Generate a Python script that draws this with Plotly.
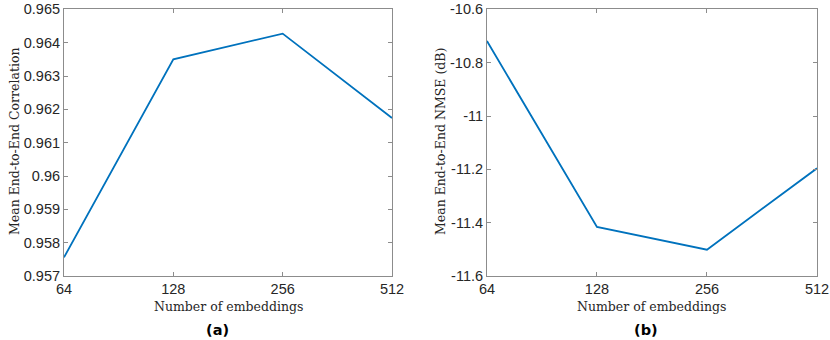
"""
Mean end-to-end correlation and NMSE vs number of embeddings
"""
import numpy as np
import plotly.graph_objs as go

# data
embeddings = [64, 128, 256, 512]
correlation = [0.95756, 0.9635, 0.96427, 0.96174]
nmse_db = [-10.719, -11.416, -11.501, -11.196]

corr_ticks = [0.957, 0.958, 0.959, 0.960, 0.961, 0.962, 0.963, 0.964, 0.965]
corr_labels = ['0.957', '0.958', '0.959', '0.96', '0.961', '0.962', '0.963', '0.964', '0.965']
nmse_ticks = [-11.6, -11.4, -11.2, -11.0, -10.8, -10.6]
nmse_labels = ['-11.6', '-11.4', '-11.2', '-11', '-10.8', '-10.6']

line_color = '#0072BD'
axis_color = '#8c8c8c'
tick_font = dict(family='Liberation Sans, Arial', size=14.5, color='#262626')
title_font = dict(family='DejaVu Serif, Liberation Serif', size=12.5, color='#262626')

fig = go.Figure()
fig.add_trace(go.Scatter(x=embeddings, y=correlation, mode='lines',
                         line=dict(color=line_color, width=1.8),
                         xaxis='x', yaxis='y', showlegend=False))
fig.add_trace(go.Scatter(x=embeddings, y=nmse_db, mode='lines',
                         line=dict(color=line_color, width=1.8),
                         xaxis='x2', yaxis='y2', showlegend=False))

common_axis = dict(showline=True, linecolor=axis_color, linewidth=1, mirror='ticks',
                   ticks='inside', ticklen=4, tickcolor=axis_color, showgrid=False,
                   zeroline=False, tickfont=tick_font, automargin=False)

x_range = [np.log10(64), np.log10(512)]

fig.update_layout(
    width=830, height=340,
    margin=dict(l=0, r=0, t=0, b=0),
    paper_bgcolor='white', plot_bgcolor='white',
    xaxis=dict(domain=[0.0771, 0.4723], type='log', range=x_range,
               tickvals=embeddings, ticktext=[str(v) for v in embeddings],
               anchor='y', **common_axis),
    yaxis=dict(domain=[0.188, 0.9726], range=[0.957, 0.965],
               tickvals=corr_ticks, ticktext=corr_labels,
               anchor='x', **common_axis),
    xaxis2=dict(domain=[0.5867, 0.9843], type='log', range=x_range,
                tickvals=embeddings, ticktext=[str(v) for v in embeddings],
                anchor='y2', **common_axis),
    yaxis2=dict(domain=[0.188, 0.9726], range=[-11.6, -10.6],
                tickvals=nmse_ticks, ticktext=nmse_labels,
                anchor='x2', **common_axis),
)

for xpos in [0.2747, 0.7855]:
    fig.add_annotation(text='Number of embeddings', x=xpos, y=1 - 306 / 340,
                       xref='paper', yref='paper', showarrow=False, font=title_font,
                       xanchor='center', yanchor='middle')

fig.add_annotation(text='Mean End-to-End Correlation', x=14 / 830, y=1 - 142 / 340,
                   xref='paper', yref='paper', showarrow=False, textangle=-90,
                   font=title_font, xanchor='center', yanchor='middle')
fig.add_annotation(text='Mean End-to-End NMSE (dB)', x=440 / 830, y=1 - 142 / 340,
                   xref='paper', yref='paper', showarrow=False, textangle=-90,
                   font=title_font, xanchor='center', yanchor='middle')

fig.add_annotation(text='<b>(a)</b>', x=217 / 830, y=1 - 330 / 340, xref='paper', yref='paper',
                   showarrow=False, xanchor='center', yanchor='middle',
                   font=dict(family='DejaVu Sans', size=14.5, color='black'))
fig.add_annotation(text='<b>(b)</b>', x=646 / 830, y=1 - 330 / 340, xref='paper', yref='paper',
                   showarrow=False, xanchor='center', yanchor='middle',
                   font=dict(family='DejaVu Sans', size=14.5, color='black'))

# body margin would push the 830x340 figure off the window
fig.write_html("out.html", config={'displayModeBar': False},
               post_script="document.body.style.margin='0';")
